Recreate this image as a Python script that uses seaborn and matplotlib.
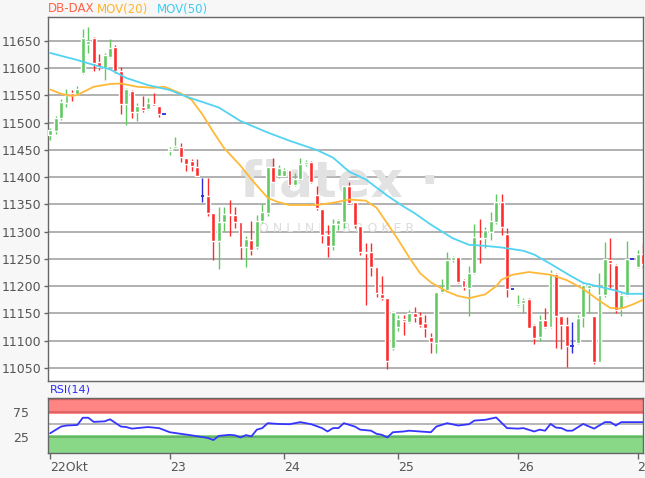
import matplotlib
matplotlib.use("Agg")
import matplotlib.pyplot as plt
import numpy as np
import pandas as pd
import seaborn as sns

# 30-min bars, bar number = position on the x axis
opens = [11478, 11484, 11508, 11537, 11555, 11553, 11591, 11644, 11656, 11612, 11600, 11621, 11639, 11594,
         11534, 11559, 11520, 11529, 11525, 11535, 11531, 11516,
         11448, 11453, 11455, 11436, 11429, 11419, 11366, 11366, 11334, 11283, 11318, 11333, 11331, 11318,
         11271, 11284, 11271, 11319, 11334, 11419, 11402,
         11402, 11413, 11386, 11396, 11424, 11428, 11367, 11341, 11294, 11273, 11315, 11318, 11383, 11355,
         11310, 11262, 11262, 11236, 11186, 11178, 11086,
         11125, 11139, 11135, 11151, 11145, 11133, 11107, 11096, 11190, 11193, 11248, 11253, 11211, 11196,
         11224, 11289, 11288, 11300, 11318, 11355, 11296, 11194,
         11163, 11169, 11177, 11129, 11106, 11138, 11126, 11222, 11146, 11129, 11090, 11096, 11143, 11196,
         11145, 11061, 11183, 11248, 11239, 11159, 11183, 11250,
         11236, 11259]
highs = [11490, 11513, 11543, 11561, 11560, 11567, 11672, 11676, 11657, 11627, 11628, 11654, 11642, 11603,
         11564, 11560, 11537, 11549, 11546, 11554, 11531, 11516,
         11455, 11473, 11463, 11436, 11434, 11434, 11399, 11399, 11334, 11346, 11346, 11359, 11346, 11318,
         11292, 11319, 11331, 11351, 11419, 11435, 11423,
         11416, 11413, 11407, 11435, 11431, 11430, 11383, 11341, 11312, 11323, 11324, 11383, 11392, 11355,
         11310, 11279, 11279, 11236, 11218, 11178, 11155,
         11147, 11147, 11156, 11161, 11153, 11147, 11115, 11190, 11214, 11263, 11255, 11253, 11214, 11237,
         11314, 11323, 11308, 11337, 11369, 11369, 11306, 11194,
         11183, 11178, 11178, 11130, 11148, 11160, 11230, 11224, 11146, 11144, 11135, 11148, 11204, 11205,
         11145, 11224, 11282, 11289, 11240, 11187, 11283, 11250,
         11266, 11277]
lows = [11468, 11480, 11505, 11528, 11540, 11550, 11590, 11628, 11594, 11596, 11579, 11618, 11591, 11516,
        11496, 11508, 11504, 11519, 11524, 11530, 11511, 11516,
        11441, 11450, 11428, 11411, 11411, 11401, 11354, 11328, 11248, 11232, 11301, 11292, 11307, 11250,
        11235, 11258, 11268, 11316, 11328, 11391, 11398,
        11400, 11383, 11383, 11394, 11420, 11389, 11340, 11279, 11254, 11266, 11303, 11306, 11350, 11306,
        11257, 11165, 11218, 11181, 11175, 11048, 11083,
        11118, 11110, 11132, 11135, 11126, 11107, 11078, 11077, 11187, 11190, 11245, 11205, 11193, 11145,
        11222, 11242, 11270, 11285, 11315, 11294, 11181, 11194,
        11161, 11150, 11123, 11094, 11099, 11123, 11124, 11087, 11084, 11051, 11078, 11094, 11126, 11150,
        11057, 11060, 11180, 11196, 11151, 11145, 11182, 11250,
        11233, 11233]
closes = [11486, 11509, 11538, 11550, 11550, 11562, 11656, 11650, 11609, 11603, 11624, 11637, 11594, 11534,
          11561, 11520, 11530, 11524, 11536, 11530, 11516, 11516,
          11451, 11458, 11437, 11425, 11420, 11402, 11366, 11334, 11283, 11318, 11333, 11331, 11318, 11271,
          11286, 11267, 11319, 11336, 11419, 11392, 11417,
          11414, 11386, 11396, 11425, 11428, 11392, 11343, 11294, 11273, 11315, 11321, 11383, 11352, 11312,
          11263, 11260, 11236, 11187, 11178, 11062, 11153,
          11140, 11137, 11150, 11144, 11129, 11123, 11097, 11190, 11197, 11248, 11254, 11208, 11199, 11225,
          11290, 11287, 11303, 11320, 11355, 11308, 11194, 11194,
          11167, 11175, 11124, 11105, 11138, 11126, 11224, 11146, 11128, 11090, 11090, 11141, 11202, 11202,
          11061, 11184, 11250, 11242, 11157, 11184, 11250, 11250,
          11259, 11240]

day_start_bars = [0, 22, 43, 64, 86, 108]
day_labels = ["22Okt", "23", "24", "25", "26", "29"]

# moving averages and RSI at these bars
ma20_bars = [0, 2, 4, 5, 8, 11, 13, 16, 19, 21, 24, 26, 28, 30, 32, 35, 37, 40, 42, 44, 46, 49, 52, 55,
             58, 60, 62, 64, 66, 68, 70, 73, 75, 77, 80, 82, 83, 85, 88, 92, 95, 98, 101, 103, 105, 107, 109]
ma20_vals = [11561, 11553, 11549, 11551, 11566, 11571, 11572, 11566, 11564, 11566, 11554, 11542, 11515,
             11483, 11453, 11421, 11396, 11362, 11354, 11349, 11349, 11349, 11353, 11359, 11357, 11344,
             11315, 11285, 11253, 11224, 11207, 11190, 11182, 11178, 11185, 11200, 11212, 11221, 11226,
             11221, 11211, 11195, 11173, 11160, 11159, 11166, 11175]
ma50_bars = [0, 5, 8, 11, 14, 18, 22, 25, 31, 35, 40, 44, 49, 52, 55, 58, 62, 65, 67, 70, 74, 77, 80,
             83, 87, 89, 92, 95, 98, 101, 104, 106, 109]
ma50_vals = [11628, 11615, 11606, 11598, 11582, 11569, 11560, 11548, 11528, 11503, 11482, 11467, 11450,
             11436, 11410, 11396, 11366, 11346, 11334, 11313, 11288, 11276, 11274, 11271, 11265, 11258,
             11241, 11223, 11206, 11199, 11192, 11186, 11186]
rsi_bars = [0, 2, 3, 5, 6, 7, 8, 10, 11, 13, 14, 15, 16, 18, 20, 22, 24, 26, 29, 30, 31, 33, 34, 35, 36,
            37, 38, 39, 40, 42, 44, 46, 48, 50, 51, 52, 53, 54, 56, 57, 59, 60, 61, 62, 63, 65, 66, 68,
            70, 71, 73, 75, 77, 78, 80, 82, 84, 86, 87, 89, 90, 91, 92, 93, 94, 95, 96, 98, 100, 102,
            103, 104, 105, 107, 109]
rsi_vals = [33, 46, 48, 49, 63, 63, 55, 56, 60, 46, 45, 42, 43, 45, 43, 35, 32, 29, 24, 20, 28, 30, 29,
            25, 29.5, 27, 40, 43, 52.5, 51, 50.5, 54.5, 50.5, 43, 36.5, 43, 43, 52.5, 46, 40, 38, 32, 30,
            25, 35, 36.5, 38, 36.5, 35, 46, 52.5, 48, 50.5, 57.5, 59, 63.5, 43, 42, 43, 36.5, 40, 38, 51,
            44, 43, 38, 38, 51, 42, 54.5, 54.5, 48, 54.5, 54.5, 54.5]

GREEN = "#62c962"
RED = "#ff2b2b"
BLUE = "#2b2bd8"
LABEL = "#555555"

sns.set_style("white")
plt.rcParams["font.family"] = ["DejaVu Sans"]

fig = plt.figure(figsize=(6.45, 4.78), dpi=100, facecolor="#f7f7f7")
ax = fig.add_axes([48 / 645, 1 - 381 / 478, 595 / 645, 364 / 478])
ax_rsi = fig.add_axes([48 / 645, 1 - 453 / 478, 595 / 645, 55.5 / 478], sharex=ax)
ax.set_facecolor("white")
ax_rsi.set_facecolor("white")

# watermark
ax.text(0.49, 0.545, "flatex \u00b7", transform=ax.transAxes, ha="center", va="center",
        fontsize=36, fontweight="bold", color="#e2e2e2", zorder=0.6)
ax.text(0.485, 0.42, "O N L I N E    B R O K E R", transform=ax.transAxes, ha="center",
        va="center", fontsize=9, color="#dcdcdc", zorder=0.6)

df = pd.DataFrame({"open": opens, "high": highs, "low": lows, "close": closes})
df["bar"] = np.arange(len(df))
up = df[df["close"] > df["open"]]
down = df[df["close"] < df["open"]]
flat = df[df["close"] == df["open"]]

for sub, col in [(up, GREEN), (down, RED), (flat, BLUE)]:
    ax.vlines(sub["bar"], sub["low"], sub["high"], color=col, lw=1.0, zorder=2)
ax.bar(up["bar"], up["close"] - up["open"], bottom=up["open"], width=0.72, color=GREEN, zorder=3)
ax.bar(down["bar"], down["close"] - down["open"], bottom=down["open"], width=0.72, color=RED, zorder=3)
ax.hlines(flat["close"], flat["bar"] - 0.36, flat["bar"] + 0.36, color=BLUE, lw=1.3, zorder=3)

sns.lineplot(x=ma20_bars, y=ma20_vals, ax=ax, color="#ffb938", lw=1.3, zorder=4)
sns.lineplot(x=ma50_bars, y=ma50_vals, ax=ax, color="#52d3f2", lw=1.3, zorder=4)

ax.set_xlim(-0.4, 109.0)
ax.set_ylim(11026, 11694)
ax.set_yticks(np.arange(11050, 11651, 50))
ax.set_axisbelow(True)
ax.grid(axis="y", color="#ababab", lw=1.3)
ax.grid(axis="x", visible=False)
ax.tick_params(axis="x", bottom=False, labelbottom=False)
ax.tick_params(axis="y", left=True, length=3, width=1, color="#666666", pad=2,
               labelsize=9, labelcolor=LABEL)
ax.set_xlabel("")
ax.set_ylabel("")
for s in ax.spines.values():
    s.set_color("#666666")
    s.set_linewidth(1)

# RSI panel
ax_rsi.axhspan(70, 102, color="#ff8585", lw=0, zorder=0.5)
ax_rsi.axhspan(-5, 30, color="#88d888", lw=0, zorder=0.5)
ax_rsi.axhline(75, color="#d86060", lw=1.2, zorder=1)
ax_rsi.axhline(50, color="#aaaaaa", lw=1.2, zorder=1)
ax_rsi.axhline(25, color="#60b060", lw=1.2, zorder=1)
ax_rsi.axhline(100, color="#d86060", lw=1.0, zorder=1)
sns.lineplot(x=rsi_bars, y=rsi_vals, ax=ax_rsi, color="#3535ff", lw=1.3, zorder=3)
ax_rsi.set_ylim(-5, 102)
ax_rsi.set_yticks([25, 75])
ax_rsi.tick_params(axis="y", left=False, pad=10, labelsize=9, labelcolor=LABEL)
ax_rsi.set_xticks(day_start_bars)
ax_rsi.set_xticklabels(day_labels, ha="left")
ax_rsi.tick_params(axis="x", bottom=True, length=4, width=1, color="#666666", pad=2,
                   labelsize=9, labelcolor=LABEL)
ax_rsi.set_xlabel("")
ax_rsi.set_ylabel("")
for s in ax_rsi.spines.values():
    s.set_color("#666666")
    s.set_linewidth(1)

# header texts
fig.text(48 / 645, 1 - 9 / 478, "DB-DAX", color="#ff6347", fontsize=8.5, va="center")
fig.text(97 / 645, 1 - 9 / 478, "MOV(20)", color="#ffb52e", fontsize=8.5, va="center")
fig.text(157 / 645, 1 - 9 / 478, "MOV(50)", color="#3fcdf0", fontsize=8.5, va="center")
fig.text(50 / 645, 1 - 390 / 478, "RSI(14)", color="#2b2bff", fontsize=8, va="center")

fig.savefig("out.png", dpi=100, facecolor=fig.get_facecolor())
